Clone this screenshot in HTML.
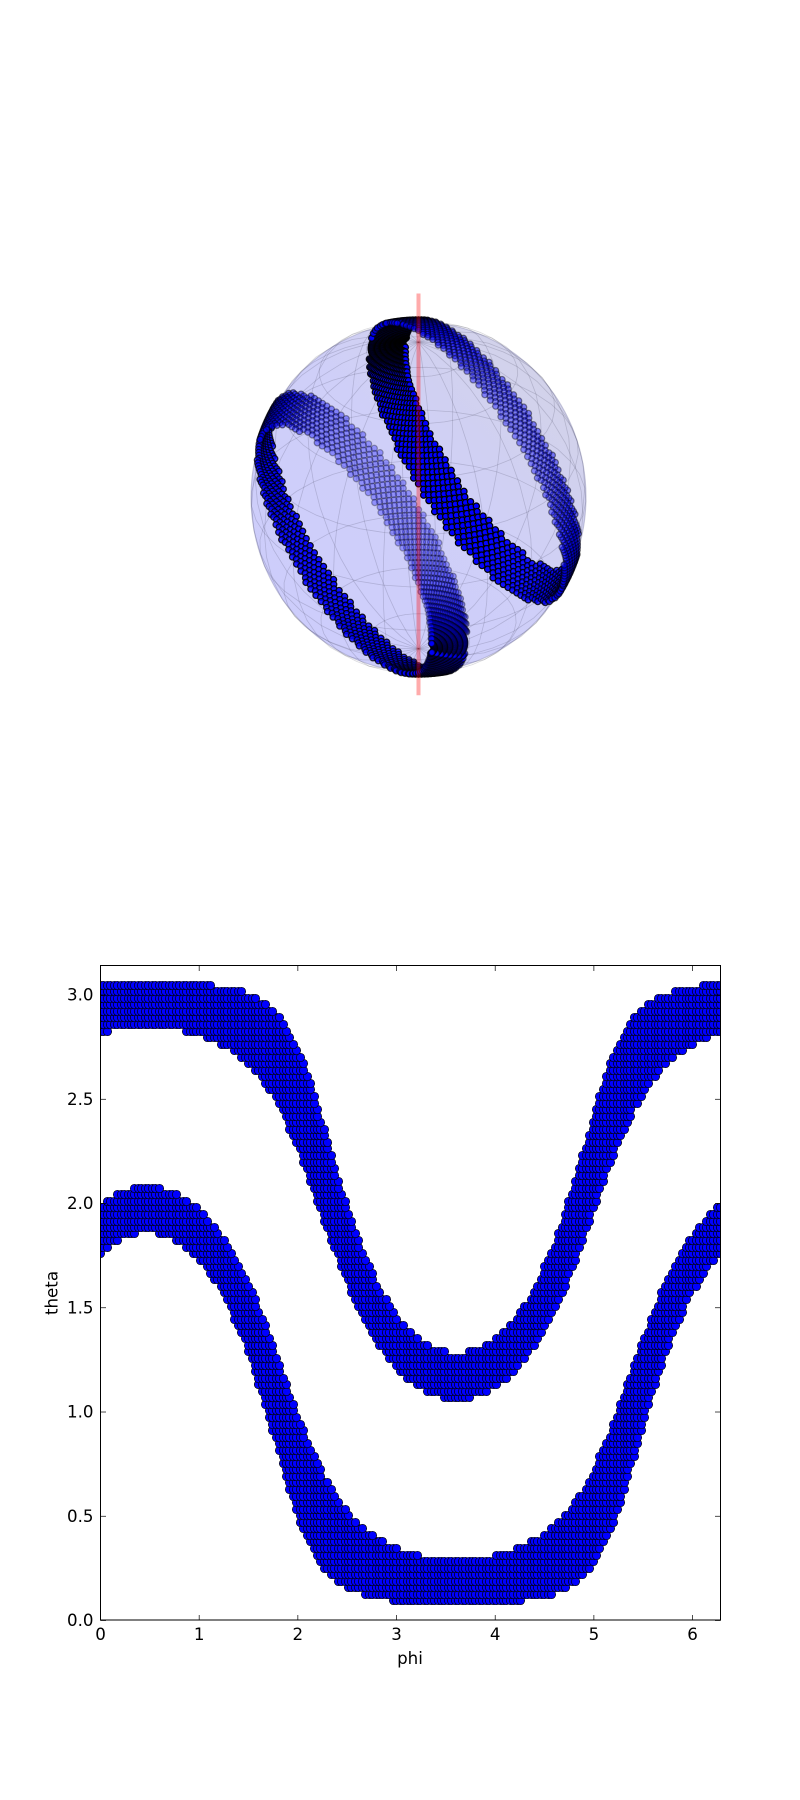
<!DOCTYPE html>
<html>
<head>
<meta charset="utf-8">
<title>Band on sphere: 3D view and phi/theta map</title>
<style>
html,body{margin:0;padding:0;background:#fff;}
svg{display:block;}
text{font-family:"DejaVu Sans","Liberation Sans",sans-serif;font-size:16.67px;fill:#000;}
</style>
</head>
<body>
<svg id="chart" xmlns="http://www.w3.org/2000/svg" width="800" height="1800" viewBox="0 0 800 1800">
  <defs>
    <clipPath id="plot-clip"><rect x="100.5" y="965.5" width="620" height="655"/></clipPath>
    <linearGradient id="sphere-fill" x1="0.15" y1="0.85" x2="0.85" y2="0.15">
      <stop offset="0" stop-color="#cdcdfb"/>
      <stop offset="0.55" stop-color="#cfcff8"/>
      <stop offset="1" stop-color="#d2d2ea"/>
    </linearGradient>
  </defs>
  <rect x="0" y="0" width="800" height="1800" fill="#fff"/>
  <g id="sphere-view"></g>
  <g id="map-view"></g>
</svg>
<script>
// ---- chart data ----
const centerPhi = 3.615;
const phiSamples = 180;
const xTickValues = [0, 1, 2, 3, 4, 5, 6];
const yTickValues = [0, 0.5, 1, 1.5, 2, 2.5, 3];
const xTickLabels = ["0", "1", "2", "3", "4", "5", "6"];
const yTickLabels = ["0.0", "0.5", "1.0", "1.5", "2.0", "2.5", "3.0"];
const xAxisTitle = "phi";
const yAxisTitle = "theta";

const lowerTheta = [0.094,0.126,0.157,0.188,0.220,0.251,0.283,0.314,0.346,0.377,0.408,0.440,0.471,0.503,0.534,0.565,0.597,0.628,0.660,0.691,0.723,0.754,0.785,0.817,0.848,0.880,0.911,0.942,0.974,1.005,1.037,1.068,1.100,1.131,1.162,1.194,1.225,1.257,1.288,1.319,1.351,1.382,1.414,1.445,1.477,1.508,1.539,1.571,1.602,1.634,1.665,1.696,1.728,1.759,1.791,1.822,1.854,1.885,1.916,1.948,1.979,2.011,2.042,2.073];
const lowerInner = [0,0,0,0,0,0,0,0.378,0.604,0.746,0.856,0.944,1.017,1.080,1.136,1.186,1.231,1.273,1.311,1.347,1.380,1.412,1.443,1.472,1.499,1.526,1.553,1.578,1.603,1.627,1.652,1.675,1.699,1.722,1.746,1.769,1.792,1.816,1.840,1.864,1.888,1.912,1.937,1.963,1.989,2.016,2.043,2.072,2.101,2.131,2.164,2.197,2.232,2.269,2.308,2.350,2.395,2.445,2.499,2.560,2.631,2.716,2.824,3.010];
const lowerOuter = [0.654,0.960,1.119,1.223,1.298,1.356,1.404,1.445,1.481,1.512,1.541,1.567,1.592,1.616,1.638,1.659,1.680,1.700,1.720,1.739,1.758,1.777,1.796,1.815,1.834,1.853,1.872,1.891,1.910,1.929,1.949,1.969,1.990,2.010,2.032,2.053,2.076,2.099,2.123,2.147,2.173,2.199,2.227,2.255,2.286,2.317,2.351,2.387,2.426,2.467,2.512,2.561,2.616,2.681,2.757,2.856,3.023,3.142,3.142,3.142,3.142,3.142,3.142,3.142];

const upperTheta = [1.068,1.100,1.131,1.162,1.194,1.225,1.257,1.288,1.319,1.351,1.382,1.414,1.445,1.477,1.508,1.539,1.571,1.602,1.634,1.665,1.696,1.728,1.759,1.791,1.822,1.854,1.885,1.916,1.948,1.979,2.011,2.042,2.073,2.105,2.136,2.168,2.199,2.231,2.262,2.293,2.325,2.356,2.388,2.419,2.450,2.482,2.513,2.545,2.576,2.608,2.639,2.670,2.702,2.733,2.765,2.796,2.827,2.859,2.890,2.922,2.953,2.985,3.016,3.047];
const upperInner = [0,0,0,0,0,0,0,0.119,0.286,0.385,0.461,0.526,0.581,0.630,0.675,0.716,0.755,0.791,0.825,0.856,0.887,0.915,0.943,0.969,0.995,1.019,1.043,1.066,1.089,1.110,1.132,1.152,1.173,1.193,1.213,1.232,1.251,1.270,1.289,1.308,1.327,1.346,1.365,1.384,1.403,1.422,1.442,1.462,1.483,1.504,1.526,1.550,1.575,1.601,1.630,1.661,1.697,1.738,1.786,1.844,1.919,2.023,2.182,2.488];
const upperOuter = [0.132,0.318,0.426,0.511,0.582,0.643,0.697,0.747,0.792,0.834,0.873,0.910,0.945,0.978,1.011,1.041,1.070,1.099,1.126,1.153,1.179,1.205,1.230,1.254,1.278,1.302,1.326,1.350,1.373,1.396,1.420,1.443,1.467,1.490,1.515,1.539,1.564,1.589,1.616,1.643,1.670,1.699,1.730,1.762,1.795,1.831,1.869,1.911,1.956,2.006,2.062,2.125,2.198,2.286,2.396,2.538,2.764,3.142,3.142,3.142,3.142,3.142,3.142,3.142];

const poleAxisEnds = [-1.31, 1.31];

// ---- helpers ----
const SVGNS = "http://www.w3.org/2000/svg";
const TWO_PI = Math.PI * 2;
function make(tag, attrs, parent) {
  const n = document.createElementNS(SVGNS, tag);
  for (const k in attrs) n.setAttribute(k, attrs[k]);
  parent.appendChild(n);
  return n;
}

// axis functions of the lower panel
const plotLeft = 100.5, plotRight = 720.5, plotTop = 965.5, plotBottom = 1620.5;
function xScale(phi) { return plotLeft + phi / TWO_PI * (plotRight - plotLeft); }
function yScale(theta) { return plotBottom - theta / Math.PI * (plotBottom - plotTop); }
// the reference snaps line markers to whole pixels
function snap(v) { return Math.floor(v) + 0.5; }

// camera of the upper panel
const elev = 30 * Math.PI / 180, azim = -60 * Math.PI / 180;
const rightVec = [-Math.sin(azim), Math.cos(azim), 0];
const upVec = [-Math.sin(elev) * Math.cos(azim), -Math.sin(elev) * Math.sin(azim), Math.cos(elev)];
const towardVec = [Math.cos(elev) * Math.cos(azim), Math.cos(elev) * Math.sin(azim), Math.sin(elev)];
const sphereCx = 418.5, sphereCy = 497, sphereSx = 167.5, sphereSy = 177, perspective = 0.02;
function dot(a, b) { return a[0] * b[0] + a[1] * b[1] + a[2] * b[2]; }
function projectXYZ(v) {
  const z = dot(v, towardVec);
  const p = 1 / (1 - z * perspective);
  return { x: sphereCx + sphereSx * p * dot(v, rightVec), y: sphereCy - sphereSy * p * dot(v, upVec), z: z };
}
function projectAngles(theta, phi) {
  return projectXYZ([Math.sin(theta) * Math.cos(phi), Math.sin(theta) * Math.sin(phi), Math.cos(theta)]);
}

// expand a row table into phi samples that fall inside the band
function rowPhis(inner, outer) {
  const out = [];
  for (let i = 0; i <= phiSamples; i++) {
    const phi = i / phiSamples * TWO_PI;
    let d = Math.abs(phi - centerPhi);
    if (d > Math.PI) d = TWO_PI - d;
    if (d >= inner && d <= outer) out.push(phi);
  }
  return out;
}

const sphereView = document.getElementById("sphere-view");
const mapView = document.getElementById("map-view");

// ---- upper panel: translucent sphere ----
const sphereBody = make("ellipse", { cx: sphereCx, cy: sphereCy, rx: sphereSx, ry: sphereSy - 2, fill: "url(#sphere-fill)", stroke: "#7d7da8", "stroke-opacity": 0.4, "stroke-width": 1.1 }, sphereView);



const wire = make("g", { fill: "none", stroke: "#2b2b45", "stroke-opacity": 0.18, "stroke-width": 0.8 }, sphereView);


const meridianCount = 20, parallelCount = 10, wireSegments = 20;
for (let m = 0; m < meridianCount; m++) {
  const phi = m / meridianCount * TWO_PI;
  const pts = [];
  for (let s = 0; s <= wireSegments; s++) {
    const q = projectAngles(s / wireSegments * Math.PI, phi);
    pts.push(q.x.toFixed(1) + "," + q.y.toFixed(1));
  }
  const line = make("polyline", { points: pts.join(" ") }, wire);
  
  
}
for (let p = 1; p < parallelCount; p++) {
  const theta = p / parallelCount * Math.PI;
  const pts = [];
  for (let s = 0; s <= wireSegments * 2; s++) {
    const q = projectAngles(theta, s / (wireSegments * 2) * TWO_PI);
    pts.push(q.x.toFixed(1) + "," + q.y.toFixed(1));
  }
  const line = make("polyline", { points: pts.join(" ") }, wire);
  
  
}

// ---- upper panel: band points with depth shading ----
const sphereBands = make("g", { fill: "#0000ff", stroke: "#000" }, sphereView);


function drawSphereBand(thetas, inners, outers) {
  for (let r = 0; r < thetas.length; r++) {
    const phis = rowPhis(inners[r], outers[r]);
    for (const phi of phis) {
      const q = projectAngles(thetas[r], phi);
      const alpha = 0.3 + 0.7 * Math.min(1, Math.max(0, (q.z + 0.93) / 1.86));
      const dotMark = make("circle", { cx: q.x.toFixed(2), cy: q.y.toFixed(2), r: 3.1, "stroke-width": 1.25, "fill-opacity": alpha.toFixed(3), "stroke-opacity": alpha.toFixed(3) }, sphereBands);
      
      
    }
  }
}
drawSphereBand(lowerTheta, lowerInner, lowerOuter);
drawSphereBand(upperTheta, upperInner, upperOuter);

// pole axis
const poleA = projectXYZ([0, 0, poleAxisEnds[0]]);
const poleB = projectXYZ([0, 0, poleAxisEnds[1]]);
const poleLine = make("line", { x1: poleA.x, y1: poleA.y, x2: poleB.x, y2: poleB.y, stroke: "#ff0000", "stroke-opacity": 0.33, "stroke-width": 4 }, sphereView);



// ---- lower panel: phi/theta scatter ----
const mapPoints = make("g", { "clip-path": "url(#plot-clip)", fill: "#0000ff", stroke: "#000", "stroke-width": 0.7 }, mapView);


function drawMapBand(thetas, inners, outers) {
  for (let r = 0; r < thetas.length; r++) {
    const phis = rowPhis(inners[r], outers[r]);
    for (const phi of phis) {
      const mark = make("circle", { cx: snap(xScale(phi)), cy: snap(yScale(thetas[r])), r: 4.17 }, mapPoints);
      
      
    }
  }
}
drawMapBand(lowerTheta, lowerInner, lowerOuter);
drawMapBand(upperTheta, upperInner, upperOuter);

// ---- axes ----
const frame = make("rect", { x: plotLeft, y: plotTop, width: plotRight - plotLeft, height: plotBottom - plotTop - 0.5, fill: "none", stroke: "#000", "stroke-width": 1 }, mapView);



const tickLen = 5.5;
xTickValues.forEach(function (v, i) {
  const x = xScale(v);
  const bottomTick = make("line", { x1: x, x2: x, y1: plotBottom, y2: plotBottom - tickLen, stroke: "#000", "stroke-width": 0.7 }, mapView);
  
  
  const topTick = make("line", { x1: x, x2: x, y1: plotTop, y2: plotTop + tickLen, stroke: "#000", "stroke-width": 0.7 }, mapView);
  
  
  const label = make("text", { x: x, y: plotBottom + 19.5, "text-anchor": "middle" }, mapView);
  label.textContent = xTickLabels[i];
  
  
});
yTickValues.forEach(function (v, i) {
  const y = yScale(v);
  const leftTick = make("line", { x1: plotLeft, x2: plotLeft + tickLen, y1: y, y2: y, stroke: "#000", "stroke-width": 0.7 }, mapView);
  
  
  const rightTick = make("line", { x1: plotRight, x2: plotRight - tickLen, y1: y, y2: y, stroke: "#000", "stroke-width": 0.7 }, mapView);
  
  
  const label = make("text", { x: plotLeft - 7, y: y + 5.5, "text-anchor": "end" }, mapView);
  label.textContent = yTickLabels[i];
  
  
});
const xTitle = make("text", { x: 410, y: 1664, "text-anchor": "middle" }, mapView);
xTitle.textContent = xAxisTitle;


const yTitle = make("text", { x: 0, y: 0, "text-anchor": "middle", transform: "translate(57.5 1293) rotate(-90)" }, mapView);
yTitle.textContent = yAxisTitle;


</script>
</body>
</html>
